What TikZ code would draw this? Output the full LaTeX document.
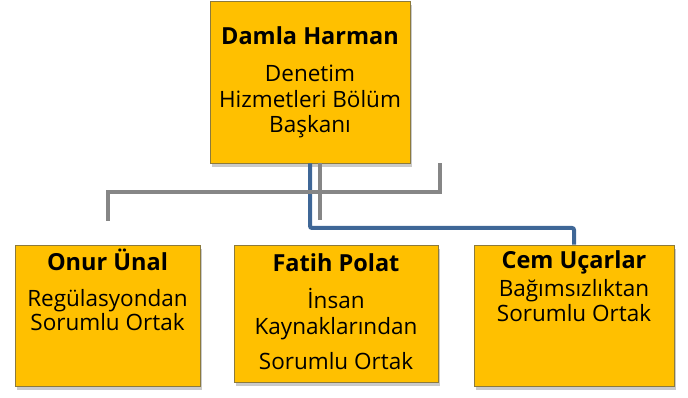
\documentclass[tikz,border=0pt]{standalone}
\usepackage{fontspec}
\setmainfont{Open Sans}
\usetikzlibrary{shadows}
\definecolor{boxfill}{HTML}{FFC000}
\definecolor{boxline}{HTML}{8C7A3C}
\definecolor{linkgray}{HTML}{868686}
\definecolor{linkblue}{HTML}{3F6797}
\tikzset{
  orgbox/.style={draw=boxline, line width=0.8pt, fill=boxfill, inner sep=0pt,
    drop shadow={shadow xshift=2pt, shadow yshift=-4pt, opacity=0.35, fill=black!60}},
  namelbl/.style={font=\fontsize{23.5}{26}\selectfont\bfseries, inner sep=0pt, anchor=base},
  bodylbl/.style={font=\fontsize{22.5}{25}\selectfont, inner sep=0pt, anchor=base},
  graylink/.style={draw=linkgray, line width=4pt},
  bluelink/.style={draw=linkblue, line width=4pt, rounded corners=2pt}
}
\begin{document}
\begin{tikzpicture}[x=1pt, y=-1pt]
\useasboundingbox (0,0) rectangle (688,398);
% boxes
\node[orgbox, minimum width=200pt, minimum height=162pt] (top) at (310,82) {};
\node[orgbox, minimum width=185pt, minimum height=141pt] (onur) at (107.5,315.5) {};
\node[orgbox, minimum width=204pt, minimum height=137pt] (fatih) at (336,313.5) {};
\node[orgbox, minimum width=200pt, minimum height=141pt] (cem) at (574,315.5) {};
% connectors
\coordinate (b1) at (310,228);
\coordinate (b2) at (574,228);
\draw[bluelink] (top.south -| b1) -- (b1) -- (b2) -- (cem.north -| b2);
\coordinate (g1) at (440,192);
\coordinate (g2) at (108,192);
\coordinate (g3) at (108,221);
\coordinate (g4) at (320,220);
\draw[graylink] (top.south -| g1) -- (g1) -- (g2) -- (g3);
\draw[graylink] (top.south -| g4) -- (g4);
% top texts
\node[namelbl] (topname) at (310,45) {Damla Harman};
\node[bodylbl] (top1) at (310,82) {Denetim};
\node[bodylbl] (top2) at (310,108) {Hizmetleri Bölüm};
\node[bodylbl] (top3) at (310,133) {Başkanı};
% onur
\node[namelbl] (onurname) at (107.5,270) {Onur Ünal};
\node[bodylbl] (onur1) at (107.5,306) {Regülasyondan};
\node[bodylbl] (onur2) at (107.5,330) {Sorumlu Ortak};
% fatih
\node[namelbl] (fatihname) at (336,271) {Fatih Polat};
\node[bodylbl] (fatih1) at (336,308) {İnsan};
\node[bodylbl] (fatih2) at (336,334) {Kaynaklarından};
\node[bodylbl] (fatih3) at (336,369) {Sorumlu Ortak};
% cem
\node[namelbl] (cemname) at (574,268) {Cem Uçarlar};
\node[bodylbl] (cem1) at (574,296) {Bağımsızlıktan};
\node[bodylbl] (cem2) at (574,321) {Sorumlu Ortak};
\end{tikzpicture}
\end{document}
